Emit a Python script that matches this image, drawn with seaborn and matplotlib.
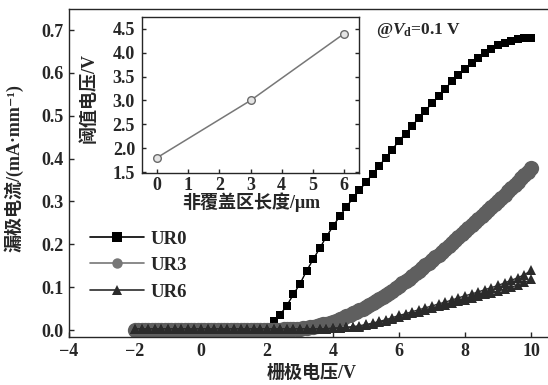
import numpy as np
import pandas as pd
import matplotlib.pyplot as plt
import seaborn as sns
from matplotlib.lines import Line2D

# gate sweep grids (V)
vg_coarse = np.round(np.arange(-2.0, 10.001, 0.2), 1)   # UR0 / UR6 step 0.2 V
vg_fine = np.round(np.arange(-2.0, 10.001, 0.1), 1)     # UR3 step 0.1 V

# drain current, mA/mm
ur0 = [0.000, 0.000, 0.000, 0.000, 0.000, 0.000, 0.000, 0.000, 0.000, 0.000,
       0.000, 0.000, 0.000, 0.000, 0.000, 0.000, 0.000, 0.000, 0.000, 0.000,
       0.004, 0.020, 0.036, 0.057, 0.083, 0.108, 0.138, 0.165, 0.191, 0.218,
       0.242, 0.265, 0.287, 0.307, 0.326, 0.345, 0.364, 0.383, 0.402, 0.421,
       0.442, 0.458, 0.476, 0.495, 0.512, 0.529, 0.546, 0.563, 0.580, 0.595,
       0.609, 0.622, 0.635, 0.646, 0.656, 0.664, 0.670, 0.675, 0.679, 0.681,
       0.682]

ur3 = [0.000, 0.000, 0.000, 0.000, 0.000, 0.000, 0.000, 0.000, 0.000, 0.000,
       0.000, 0.000, 0.000, 0.000, 0.000, 0.000, 0.000, 0.000, 0.000, 0.000,
       0.000, 0.000, 0.000, 0.000, 0.000, 0.000, 0.000, 0.000, 0.000, 0.000,
       0.000, 0.000, 0.000, 0.000, 0.000, 0.000, 0.000, 0.000, 0.000, 0.000,
       0.000,
       0.000, 0.001, 0.001, 0.001, 0.002, 0.002, 0.002, 0.003, 0.003, 0.003,
       0.004, 0.005, 0.006, 0.008, 0.009, 0.011, 0.013, 0.015, 0.017, 0.019,
       0.022, 0.025, 0.028, 0.032, 0.035, 0.039, 0.043, 0.046, 0.050, 0.054,
       0.059, 0.063, 0.068, 0.072, 0.077, 0.082, 0.087, 0.092, 0.098, 0.103,
       0.109, 0.115, 0.120, 0.126, 0.132, 0.138, 0.144, 0.151, 0.157, 0.163,
       0.170, 0.176, 0.183, 0.189, 0.196, 0.203, 0.210, 0.216, 0.223, 0.230,
       0.237, 0.244, 0.251, 0.258, 0.265, 0.272, 0.279, 0.287, 0.294, 0.301,
       0.308, 0.316, 0.324, 0.331, 0.339, 0.346, 0.354, 0.362, 0.369, 0.377]

# UR6 forward and reverse sweep
ur6_fwd = [0.003, 0.003, 0.003, 0.003, 0.003, 0.003, 0.003, 0.003, 0.003, 0.003,
           0.003, 0.003, 0.003, 0.003, 0.003, 0.003, 0.003, 0.003, 0.003, 0.003,
           0.003, 0.003, 0.003, 0.003, 0.003, 0.003, 0.003, 0.003, 0.003, 0.003,
           0.004, 0.005, 0.006, 0.007, 0.008, 0.011, 0.014, 0.018, 0.022, 0.026,
           0.031, 0.035, 0.039, 0.043, 0.047, 0.051, 0.055, 0.059, 0.063, 0.067,
           0.071, 0.075, 0.079, 0.083, 0.087, 0.091, 0.095, 0.100, 0.105, 0.111,
           0.118]
ur6_rev = [0.003, 0.003, 0.003, 0.003, 0.003, 0.003, 0.003, 0.003, 0.003, 0.003,
           0.003, 0.003, 0.003, 0.003, 0.003, 0.003, 0.003, 0.003, 0.003, 0.003,
           0.003, 0.003, 0.003, 0.003, 0.003, 0.003, 0.003, 0.003, 0.003, 0.003,
           0.004, 0.005, 0.006, 0.008, 0.010, 0.013, 0.016, 0.020, 0.024, 0.029,
           0.034, 0.038, 0.043, 0.047, 0.052, 0.056, 0.061, 0.065, 0.070, 0.075,
           0.080, 0.084, 0.089, 0.094, 0.099, 0.104, 0.110, 0.116, 0.122, 0.129,
           0.139]

# inset: threshold voltage vs un-covered length
ur_length = [0, 3, 6]
vth = [1.80, 3.00, 4.40]

sns.set_theme(style="ticks")
plt.rcParams['font.family'] = ['Liberation Serif', 'Noto Sans CJK SC', 'DejaVu Serif']
plt.rcParams['font.weight'] = 'bold'
plt.rcParams['mathtext.fontset'] = 'custom'
plt.rcParams['mathtext.rm'] = 'Liberation Serif:bold'
plt.rcParams['mathtext.bf'] = 'Liberation Serif:bold'
plt.rcParams['mathtext.it'] = 'Liberation Serif:bold:italic'
plt.rcParams['axes.linewidth'] = 1.0
plt.rcParams['axes.unicode_minus'] = True

fig = plt.figure(figsize=(5.48, 3.85), dpi=100)
ax = fig.add_axes([69 / 548, 48 / 385, 478.5 / 548, 328 / 385])

c_ur0, c_ur3, c_ur6 = '#000000', '#5f5f5f', '#2b2b2b'

sns.lineplot(x=vg_coarse, y=ur0, ax=ax, color=c_ur0, marker='s', markersize=6.3,
             markeredgewidth=0, linewidth=1, estimator=None, sort=False)
sns.lineplot(x=vg_fine, y=ur3, ax=ax, color=c_ur3, marker='o', markersize=11,
             markeredgewidth=0, linewidth=1, estimator=None, sort=False)
sns.lineplot(x=vg_coarse, y=ur6_fwd, ax=ax, color=c_ur6, marker='^', markersize=7.5,
             markeredgewidth=0, linewidth=1, estimator=None, sort=False)
sns.lineplot(x=vg_coarse, y=ur6_rev, ax=ax, color=c_ur6, marker='^', markersize=7.5,
             markeredgewidth=0, linewidth=1, estimator=None, sort=False)

ax.set_xlim(-4, 10.5)
ax.set_ylim(-0.0163, 0.749)
ax.set_xticks([-4, -2, 0, 2, 4, 6, 8, 10])
ax.set_yticks([0.0, 0.1, 0.2, 0.3, 0.4, 0.5, 0.6, 0.7])
ax.yaxis.set_major_formatter(plt.FormatStrFormatter('%.1f'))
ax.tick_params(direction='in', length=3.5, width=1, labelsize=13, pad=4)
ax.spines['right'].set_visible(False)
ax.set_xlabel("栅极电压/V", fontsize=13, fontweight='bold')
ax.set_ylabel("漏极电流/(mA·mm⁻¹)", fontsize=13, fontweight='bold')
ax.xaxis.set_label_coords(0.508, -0.085)
ax.yaxis.set_label_coords(-0.096, 0.515)
for lab in ax.get_xticklabels() + ax.get_yticklabels():
    lab.set_fontweight('bold')

ax.text(6.58, 0.70, r"@$V_\mathrm{d}$=0.1 V", fontsize=12.5, fontweight='bold',
        ha='center', va='center')

handles = [
    Line2D([], [], color=c_ur0, marker='s', markersize=6.5, linewidth=1.2, markeredgewidth=0),
    Line2D([], [], color='#777777', marker='o', markersize=7.5, linewidth=1.2, markeredgewidth=0),
    Line2D([], [], color=c_ur6, marker='^', markersize=7.5, linewidth=1.2, markeredgewidth=0),
]
ax.legend(handles, ["UR0", "UR3", "UR6"], loc='upper left', bbox_to_anchor=(0.044, 0.325),
          frameon=False, borderpad=0, borderaxespad=0, handlelength=2.9,
          handletextpad=0.35, labelspacing=0.5, prop={'size': 13.5, 'weight': 'bold'})

# inset
ins = fig.add_axes([142 / 548, (385 - 173) / 385, 217 / 548, 156 / 385])
ins.set_facecolor('white')
sns.lineplot(x=ur_length, y=vth, ax=ins, color='#777777', marker='o', markersize=5.5,
             markerfacecolor='#e4e4e4', markeredgecolor='#6a6a6a', markeredgewidth=1,
             linewidth=1.1)
ins.set_xlim(-0.48, 6.48)
ins.set_ylim(1.48, 4.75)
ins.set_xticks([0, 1, 2, 3, 4, 5, 6])
ins.set_yticks([1.5, 2.0, 2.5, 3.0, 3.5, 4.0, 4.5])
ins.yaxis.set_major_formatter(plt.FormatStrFormatter('%.1f'))
ins.tick_params(direction='in', length=3, width=1, labelsize=13, pad=3, right=True)
ins.tick_params(axis='y', pad=5)
ins.set_xlabel("非覆盖区长度/μm", fontsize=13, fontweight='bold')
ins.set_ylabel("阈值电压/V", fontsize=13, fontweight='bold')
ins.xaxis.set_label_coords(0.502, -0.125)
ins.yaxis.set_label_coords(-0.203, 0.48)
for lab in ins.get_xticklabels() + ins.get_yticklabels():
    lab.set_fontweight('bold')

fig.savefig("out.png", dpi=100, facecolor='white')
